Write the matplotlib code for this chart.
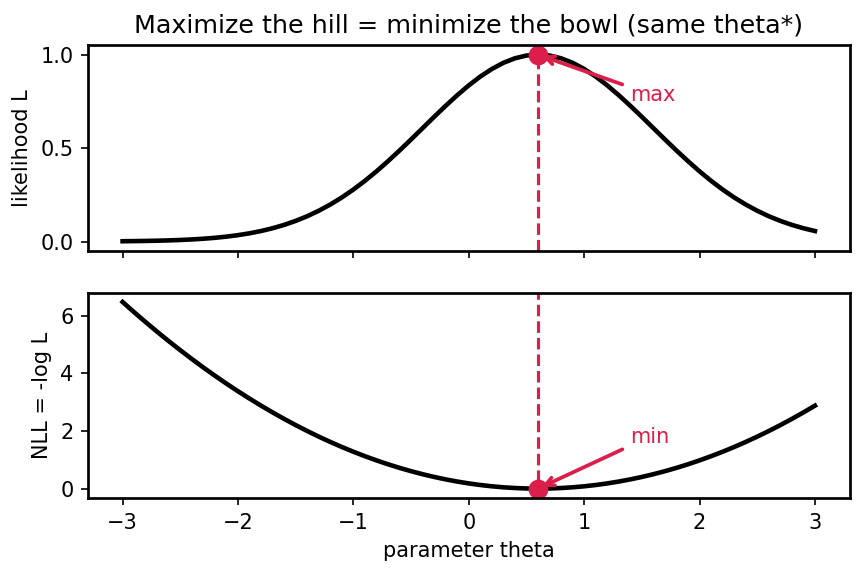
import numpy as np
import matplotlib.pyplot as plt

# parameter grid and curve values
theta = [-3.0, -2.9, -2.8, -2.7, -2.6, -2.5, -2.4, -2.3, -2.2, -2.1, -2.0,
         -1.9, -1.8, -1.7, -1.6, -1.5, -1.4, -1.3, -1.2, -1.1, -1.0,
         -0.9, -0.8, -0.7, -0.6, -0.5, -0.4, -0.3, -0.2, -0.1, 0.0,
         0.1, 0.2, 0.3, 0.4, 0.5, 0.6, 0.7, 0.8, 0.9, 1.0,
         1.1, 1.2, 1.3, 1.4, 1.5, 1.6, 1.7, 1.8, 1.9, 2.0,
         2.1, 2.2, 2.3, 2.4, 2.5, 2.6, 2.7, 2.8, 2.9, 3.0]
likelihood = [0.0015, 0.0022, 0.0031, 0.0043, 0.0060, 0.0082, 0.0111, 0.0149,
              0.0198, 0.0261, 0.0340, 0.0439, 0.0561, 0.0710, 0.0889, 0.1103,
              0.1353, 0.1645, 0.1979, 0.2357, 0.2780, 0.3247, 0.3753, 0.4296,
              0.4868, 0.5461, 0.6065, 0.6670, 0.7261, 0.7827, 0.8353, 0.8825,
              0.9231, 0.9560, 0.9802, 0.9950, 1.0000, 0.9950, 0.9802, 0.9560,
              0.9231, 0.8825, 0.8353, 0.7827, 0.7261, 0.6670, 0.6065, 0.5461,
              0.4868, 0.4296, 0.3753, 0.3247, 0.2780, 0.2357, 0.1979, 0.1645,
              0.1353, 0.1103, 0.0889, 0.0710, 0.0561]
nll = [6.480, 6.125, 5.780, 5.445, 5.120, 4.805, 4.500, 4.205, 3.920, 3.645,
       3.380, 3.125, 2.880, 2.645, 2.420, 2.205, 2.000, 1.805, 1.620, 1.445,
       1.280, 1.125, 0.980, 0.845, 0.720, 0.605, 0.500, 0.405, 0.320, 0.245,
       0.180, 0.125, 0.080, 0.045, 0.020, 0.005, 0.000, 0.005, 0.020, 0.045,
       0.080, 0.125, 0.180, 0.245, 0.320, 0.405, 0.500, 0.605, 0.720, 0.845,
       0.980, 1.125, 1.280, 1.445, 1.620, 1.805, 2.000, 2.205, 2.420, 2.645,
       2.880]

theta_star = 0.6
accent = '#dc1e4a'

fig, (ax1, ax2) = plt.subplots(2, 1, sharex=True, figsize=(5.75, 3.82), dpi=150)
fig.subplots_adjust(left=0.102, right=0.985, top=0.921, bottom=0.131, hspace=0.205)

# top: likelihood hill
ax1.plot(theta, likelihood, color='black', lw=2.2)
ax1.axvline(theta_star, color=accent, ls='--', lw=1.5)
ax1.plot([theta_star], [max(likelihood)], 'o', color=accent, ms=8.5)
ax1.annotate('max', xy=(theta_star, max(likelihood)), xytext=(1.4, 0.75),
             color=accent, fontsize=10,
             arrowprops=dict(arrowstyle='->', color=accent, lw=1.8))
ax1.set_ylabel('likelihood L', fontsize=10)
ax1.set_title('Maximize the hill = minimize the bowl (same theta*)', fontsize=12.2)

# bottom: negative log-likelihood bowl
ax2.plot(theta, nll, color='black', lw=2.2)
ax2.axvline(theta_star, color=accent, ls='--', lw=1.5)
ax2.plot([theta_star], [min(nll)], 'o', color=accent, ms=8.5)
ax2.annotate('min', xy=(theta_star, min(nll)), xytext=(1.4, 1.6),
             color=accent, fontsize=10,
             arrowprops=dict(arrowstyle='->', color=accent, lw=1.8))
ax2.set_ylabel('NLL = -log L', fontsize=10)
ax2.set_xlabel('parameter theta', fontsize=10)

for ax in (ax1, ax2):
    ax.tick_params(labelsize=10)
    for s in ax.spines.values():
        s.set_linewidth(1.3)

plt.savefig('out.png')
